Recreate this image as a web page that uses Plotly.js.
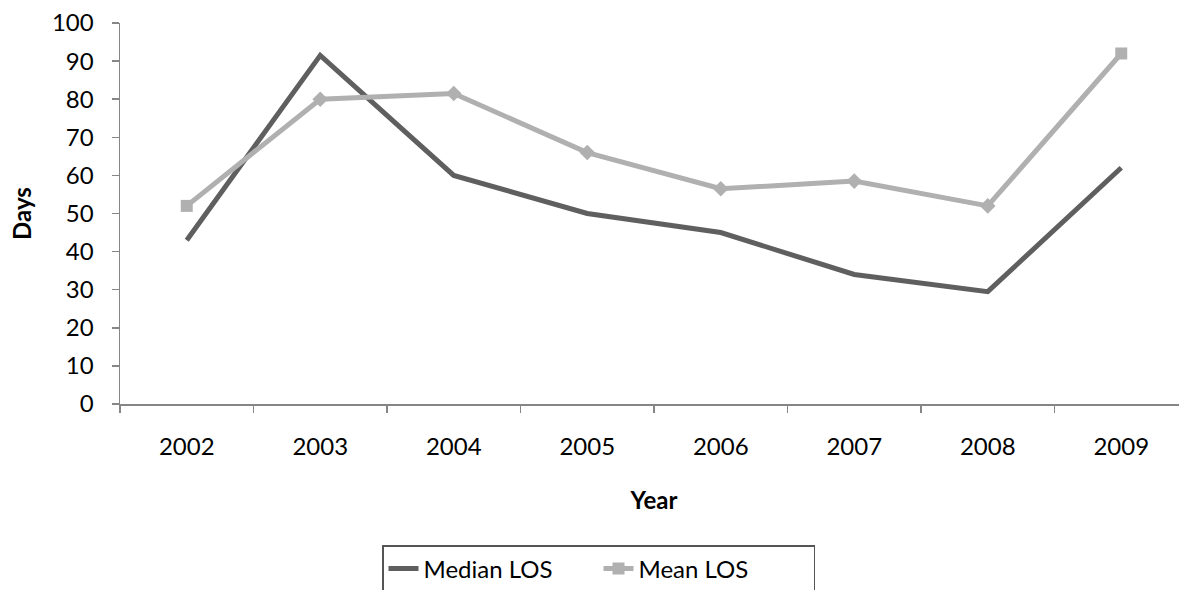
<!DOCTYPE html>
<html>
<head>
<meta charset="utf-8">
<script src="https://cdn.plot.ly/plotly-3.0.1.min.js"></script>
<style>
  html, body { margin: 0; padding: 0; overflow: hidden; background: #fff; }
  #chart { width: 1200px; height: 590px; }
</style>
</head>
<body>
<div id="chart"></div>
<script>
// Length of stay (days) per year
const years = ['2002', '2003', '2004', '2005', '2006', '2007', '2008', '2009'];
const medianLOS = [43, 91.5, 60, 50, 45, 34, 29.5, 62];
const meanLOS = [52, 80, 81.5, 66, 56.5, 58.5, 52, 92];
const meanSymbols = ['square', 'diamond', 'diamond', 'diamond', 'diamond', 'diamond', 'diamond', 'square'];

const FONT = 'Lato, "Open Sans", sans-serif';
const FS = 24;
const AXIS_GREY = '#868686';

const traces = [
  {
    type: 'scatter', mode: 'lines', name: 'Median LOS',
    x: years, y: medianLOS,
    line: { color: '#5f5f5f', width: 5 },
    hoverinfo: 'x+y'
  },
  {
    type: 'scatter', mode: 'lines+markers', name: 'Mean LOS',
    x: years, y: meanLOS,
    line: { color: '#b0b0b0', width: 5 },
    marker: { color: '#b0b0b0', size: 12, symbol: meanSymbols },
    hoverinfo: 'x+y'
  }
];

const layout = {
  width: 1200, height: 590,
  margin: { l: 120, r: 12, t: 23, b: 186 },
  paper_bgcolor: '#fff', plot_bgcolor: '#fff',
  font: { family: FONT, size: FS, color: '#000' },
  showlegend: true,
  xaxis: {
    type: 'category',
    range: [-0.5, 7.5],
    automargin: false,
    tickson: 'boundaries',
    ticks: 'outside', ticklen: 7, tickwidth: 1.5, tickcolor: AXIS_GREY,
    showline: true, linecolor: AXIS_GREY, linewidth: 1.5,
    showgrid: false, zeroline: false,
    ticklabelstandoff: 21,
    tickfont: { family: FONT, size: FS, color: '#000' },
    title: { text: '<b>Year</b>', font: { family: FONT, size: FS, color: '#000' }, standoff: 33 }
  },
  yaxis: {
    range: [0, 100],
    automargin: false,
    tickvals: [0, 10, 20, 30, 40, 50, 60, 70, 80, 90, 100],
    ticks: 'outside', ticklen: 7, tickwidth: 1.5, tickcolor: AXIS_GREY,
    showline: true, linecolor: AXIS_GREY, linewidth: 1.5,
    showgrid: false, zeroline: false,
    ticklabelstandoff: 13,
    tickfont: { family: FONT, size: FS, color: '#000' },
    title: { text: '<b>Days</b>', font: { family: FONT, size: FS, color: '#000' }, standoff: 13 }
  },
  legend: {
    orientation: 'h',
    xref: 'container', yref: 'container',
    x: 382 / 1200, xanchor: 'left',
    y: 1 - 545 / 590, yanchor: 'top',
    bordercolor: '#555', borderwidth: 1.5,
    bgcolor: '#fff',
    font: { family: FONT, size: FS, color: '#000' },
    entrywidth: 170,
    entrywidthmode: 'pixels'
  }
};

Plotly.newPlot('chart', traces, layout, { displayModeBar: false, staticPlot: true });
</script>
</body>
</html>
